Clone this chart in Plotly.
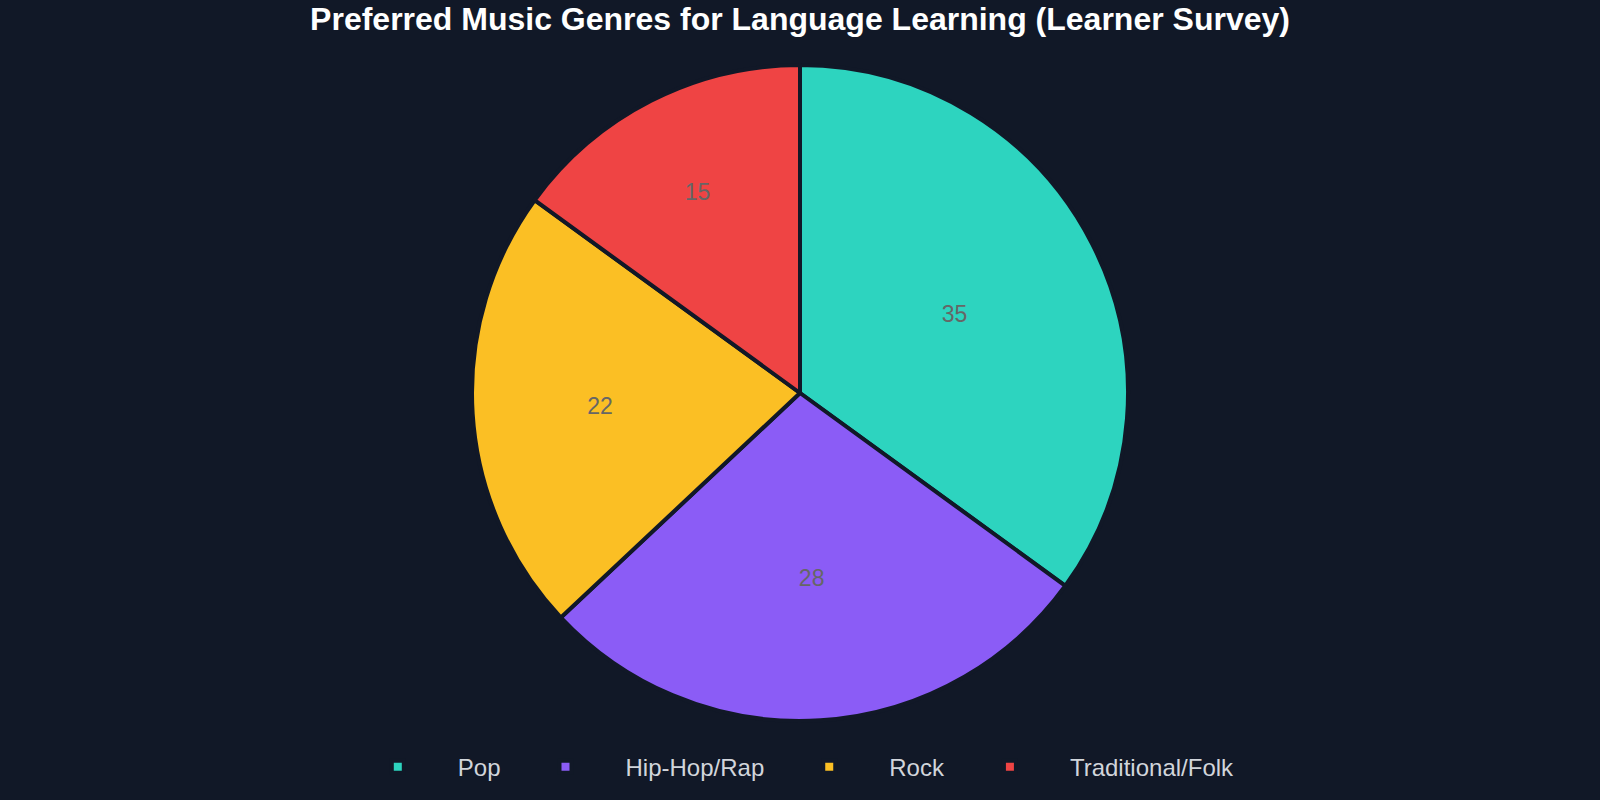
import plotly.graph_objects as go

# survey results (learners per genre)
genres = ['Pop', 'Hip-Hop/Rap', 'Rock', 'Traditional/Folk']
votes = [35, 28, 22, 15]
colors = ['#2dd4bf', '#8b5cf6', '#fbbf24', '#ef4444']

bg = '#111827'

fig = go.Figure(go.Pie(
    labels=genres,
    values=votes,
    sort=False,
    direction='clockwise',
    rotation=0,
    marker=dict(colors=colors, line=dict(color=bg, width=4)),
    textinfo='value',
    textposition='inside',
    insidetextorientation='horizontal',
    textfont=dict(color='#666666', size=23, family='Liberation Sans, Arial'),
    hoverinfo='label+value+percent',
))

fig.update_layout(
    width=1600, height=800,
    paper_bgcolor=bg,
    plot_bgcolor=bg,
    margin=dict(l=0, r=0, t=65, b=79),
    title=dict(
        text='<b>Preferred Music Genres for Language Learning (Learner Survey)</b>',
        x=0.5, xanchor='center', y=0.977, yanchor='middle',
        font=dict(size=32, color='#ffffff', family='Liberation Sans, Arial'),
    ),
    legend=dict(
        orientation='h', x=0.493, xanchor='center', y=-0.0705, yanchor='middle',
        font=dict(size=24, color='#d1d5db', family='Liberation Sans, Arial'),
        itemwidth=110,
    ),
)

# drop the default page margin so the figure fills the window, no modebar
fig.write_html("out.html", config={'displayModeBar': False},
               post_script="document.body.style.margin='0';")
